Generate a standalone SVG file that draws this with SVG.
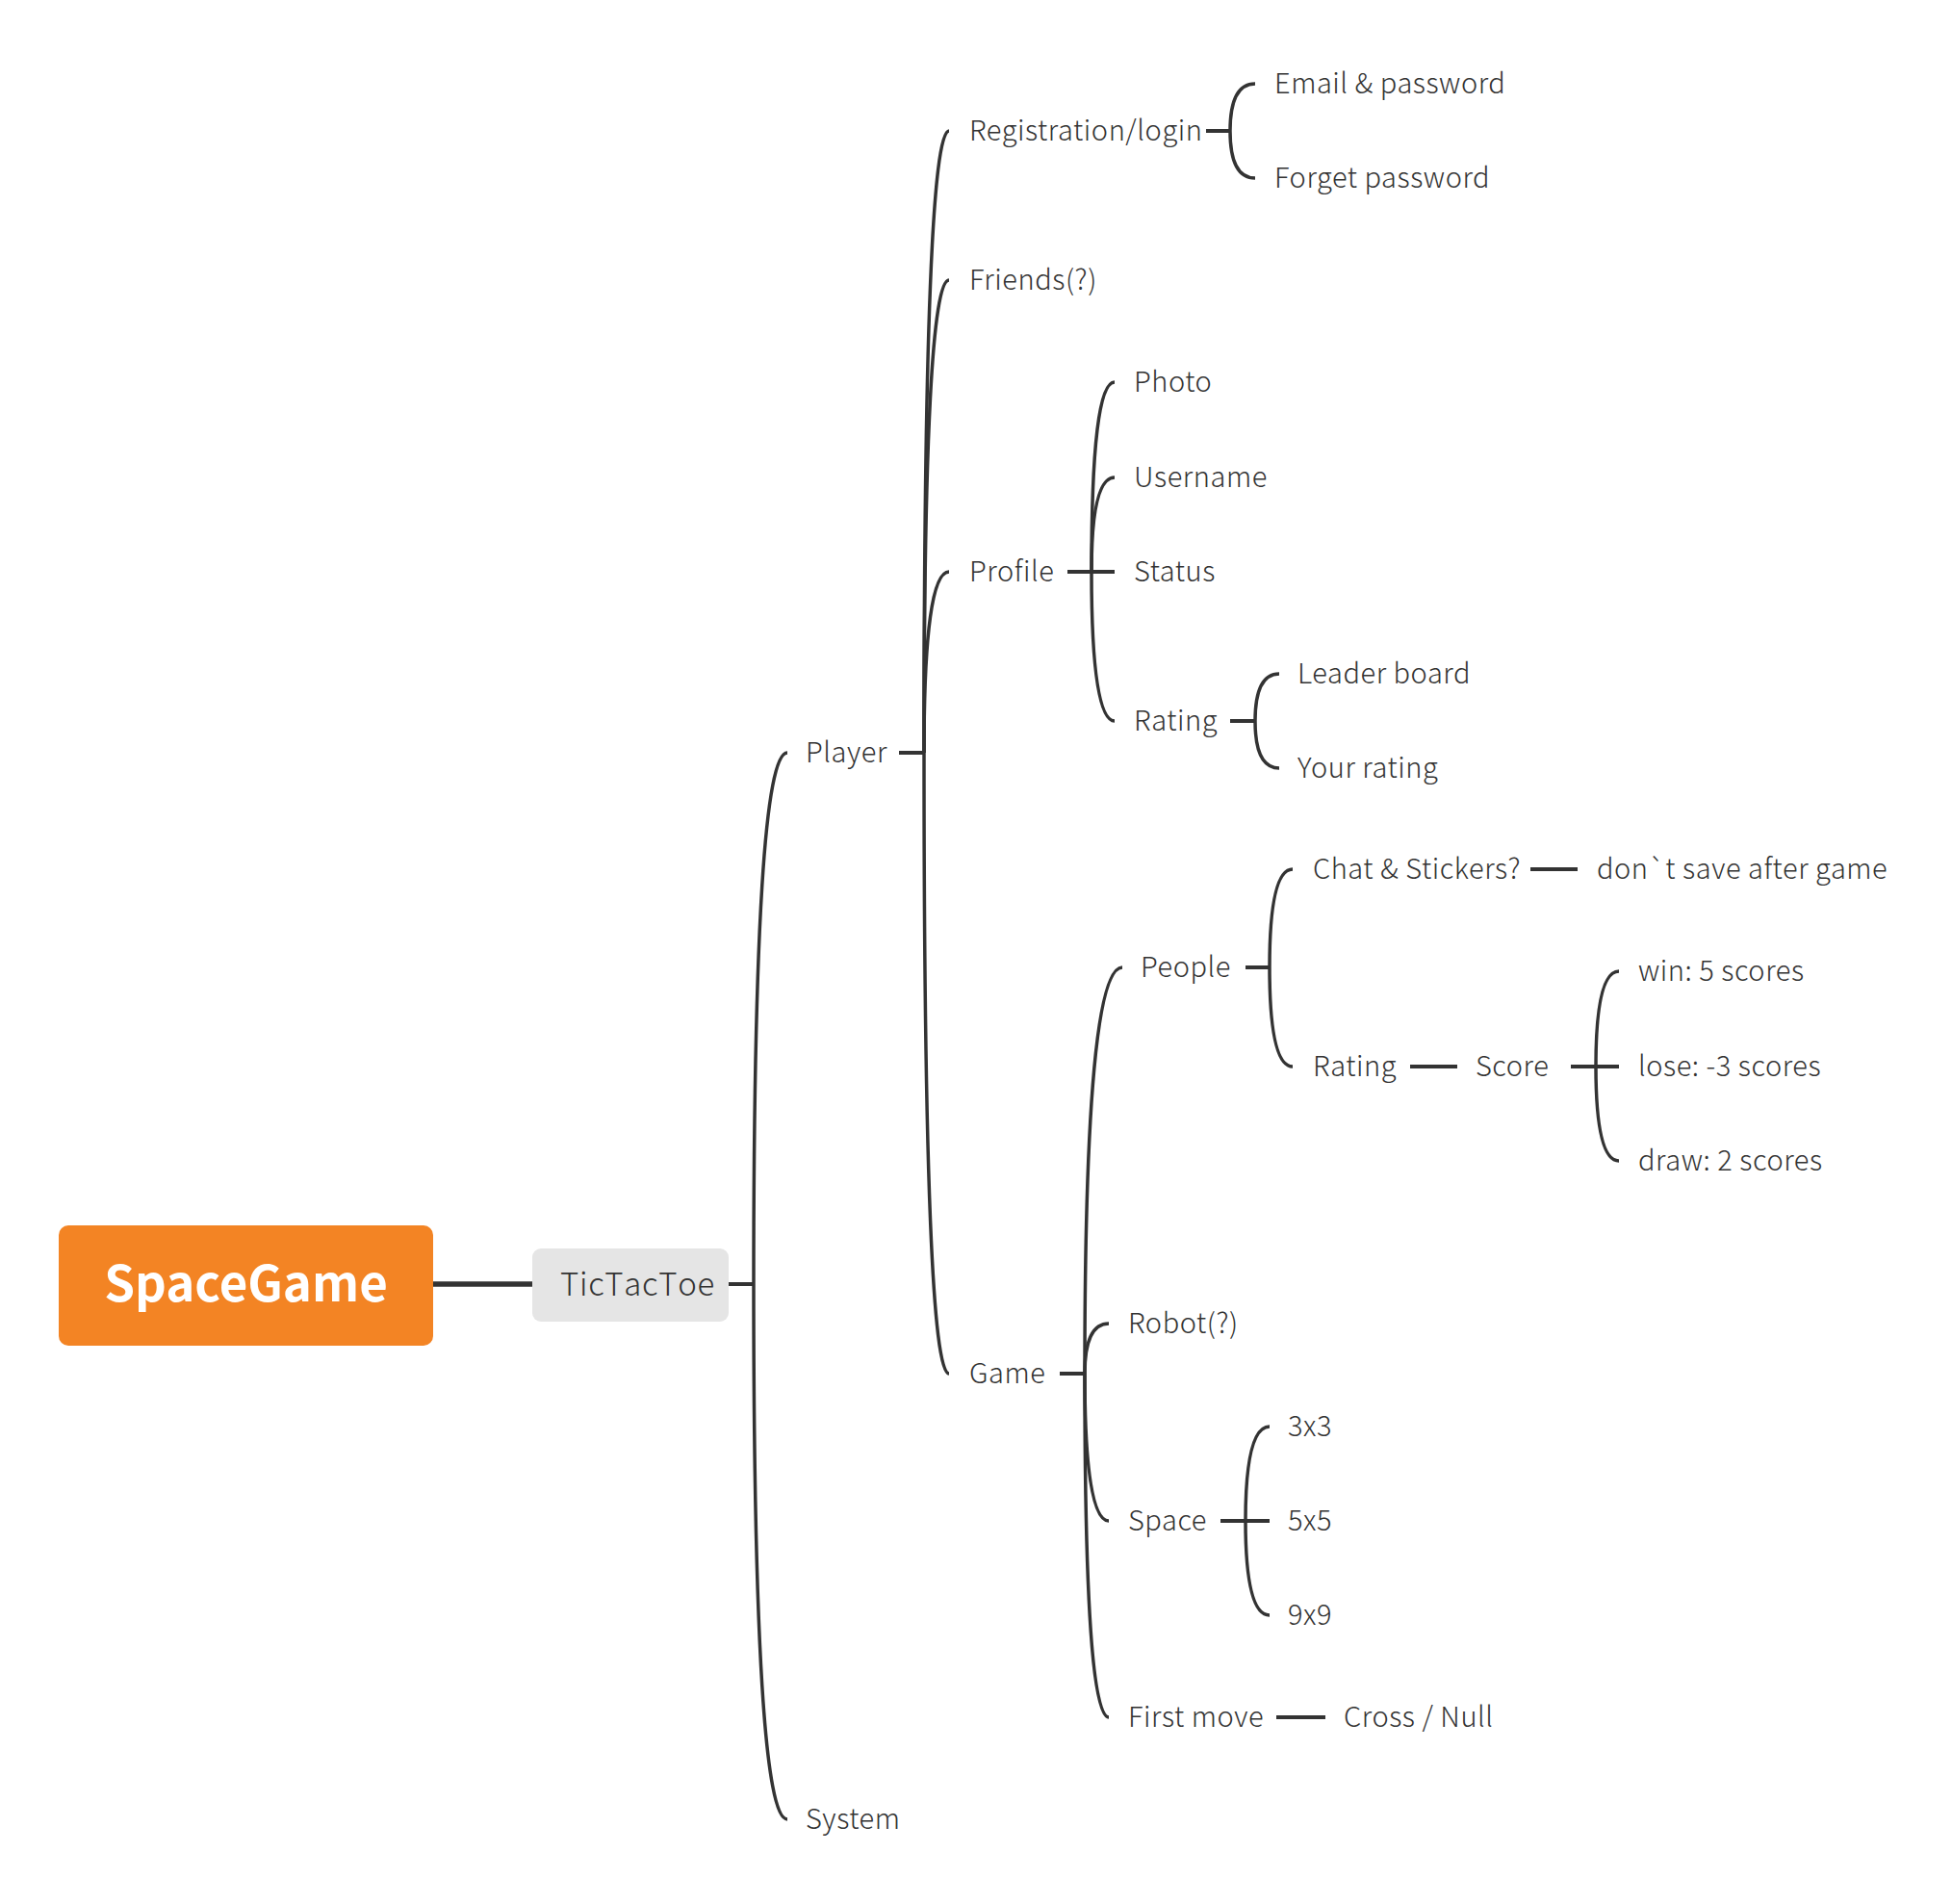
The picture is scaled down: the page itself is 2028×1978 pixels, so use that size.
<svg xmlns="http://www.w3.org/2000/svg" width="2028" height="1978" viewBox="0 0 2028 1978">
<style>
.t{font-family:"Noto Sans CJK SC","Noto Sans",sans-serif;font-size:29px;font-weight:300;letter-spacing:0.55px;fill:#333333}
.c{fill:none;stroke:#333333;stroke-width:3.5;stroke-linecap:butt}
.s{fill:none;stroke:#333333;stroke-width:4}
</style>
<rect width="2028" height="1978" fill="#ffffff"/>
<g id="connectors">
<line class="s" x1="450" y1="1334" x2="553" y2="1334" style="stroke-width:5.5"/>
<line class="s" x1="757" y1="1334" x2="783" y2="1334"/>
<path class="c" d="M783 1334 Q783 782 818 782"/>
<path class="c" d="M783 1334 Q783 1890 818 1890"/>
<line class="s" x1="934" y1="782" x2="960" y2="782"/>
<path class="c" d="M960 782 Q960 136 986 136"/>
<path class="c" d="M960 782 Q960 291 986 291"/>
<path class="c" d="M960 782 Q960 594 986 594"/>
<path class="c" d="M960 782 Q960 1427 986 1427"/>
<line class="s" x1="1253" y1="136" x2="1278" y2="136"/>
<path class="c" d="M1278 136 Q1278 87 1304 87"/>
<path class="c" d="M1278 136 Q1278 185 1304 185"/>
<line class="s" x1="1109" y1="594" x2="1158" y2="594"/>
<path class="c" d="M1134 594 Q1134 397 1158 397"/>
<path class="c" d="M1134 594 Q1134 496 1158 496"/>
<path class="c" d="M1134 594 Q1134 749 1158 749"/>
<line class="s" x1="1278" y1="749" x2="1304" y2="749"/>
<path class="c" d="M1304 749 Q1304 700 1329 700"/>
<path class="c" d="M1304 749 Q1304 798 1329 798"/>
<line class="s" x1="1101" y1="1427" x2="1127" y2="1427"/>
<path class="c" d="M1127 1427 Q1127 1005 1166 1005"/>
<path class="c" d="M1127 1427 Q1127 1375 1152 1375"/>
<path class="c" d="M1127 1427 Q1127 1580 1152 1580"/>
<path class="c" d="M1127 1427 Q1127 1784 1152 1784"/>
<line class="s" x1="1294" y1="1005" x2="1319" y2="1005"/>
<path class="c" d="M1319 1005 Q1319 903 1343 903"/>
<path class="c" d="M1319 1005 Q1319 1108 1343 1108"/>
<line class="s" x1="1590" y1="903" x2="1639" y2="903"/>
<line class="s" x1="1465" y1="1108" x2="1514" y2="1108"/>
<line class="s" x1="1632" y1="1108" x2="1682" y2="1108"/>
<path class="c" d="M1658 1108 Q1658 1009 1682 1009"/>
<path class="c" d="M1658 1108 Q1658 1206 1682 1206"/>
<line class="s" x1="1268" y1="1580" x2="1319" y2="1580"/>
<path class="c" d="M1294 1580 Q1294 1482 1319 1482"/>
<path class="c" d="M1294 1580 Q1294 1678 1319 1678"/>
<line class="s" x1="1326" y1="1784" x2="1377" y2="1784"/>
</g>
<g id="root">
<rect x="61" y="1273" width="389" height="125" rx="10" fill="#F38424"/>
<text x="255.5" y="1352" text-anchor="middle" style="font-family:'Noto Sans CJK SC','Noto Sans',sans-serif;font-size:51px;font-weight:bold;fill:#ffffff">SpaceGame</text>
</g>
<g id="tictactoe">
<rect x="553" y="1297" width="204" height="76" rx="9" fill="#E5E5E5"/>
<text x="582" y="1346" class="t" style="font-size:33px;font-kerning:none;letter-spacing:0.7px">TicTacToe</text>
</g>
<g id="player"><text class="t" x="837" y="792">Player</text></g>
<g id="system"><text class="t" x="837" y="1900">System</text></g>
<g id="registration"><text class="t" x="1007" y="146">Registration/login</text></g>
<g id="email"><text class="t" x="1324" y="97">Email &amp; password</text></g>
<g id="forget"><text class="t" x="1324" y="195">Forget password</text></g>
<g id="friends"><text class="t" x="1007" y="301">Friends(?)</text></g>
<g id="profile"><text class="t" x="1007" y="604">Profile</text></g>
<g id="photo"><text class="t" x="1178" y="407">Photo</text></g>
<g id="username"><text class="t" x="1178" y="506">Username</text></g>
<g id="status"><text class="t" x="1178" y="604">Status</text></g>
<g id="rating-profile"><text class="t" x="1178" y="759">Rating</text></g>
<g id="leader"><text class="t" x="1348" y="710">Leader board</text></g>
<g id="your-rating"><text class="t" x="1348" y="808">Your rating</text></g>
<g id="game"><text class="t" x="1007" y="1437">Game</text></g>
<g id="people"><text class="t" x="1185" y="1015">People</text></g>
<g id="chat"><text class="t" x="1364" y="913">Chat &amp; Stickers?</text></g>
<g id="dont-save"><text class="t" x="1659" y="913">don`t save after game</text></g>
<g id="rating-people"><text class="t" x="1364" y="1118">Rating</text></g>
<g id="score"><text class="t" x="1533" y="1118">Score</text></g>
<g id="win"><text class="t" x="1702" y="1019">win: 5 scores</text></g>
<g id="lose"><text class="t" x="1702" y="1118">lose: -3 scores</text></g>
<g id="draw"><text class="t" x="1702" y="1216">draw: 2 scores</text></g>
<g id="robot"><text class="t" x="1172" y="1385">Robot(?)</text></g>
<g id="space"><text class="t" x="1172" y="1590">Space</text></g>
<g id="s3x3"><text class="t" x="1338" y="1492">3x3</text></g>
<g id="s5x5"><text class="t" x="1338" y="1590">5x5</text></g>
<g id="s9x9"><text class="t" x="1338" y="1688">9x9</text></g>
<g id="first-move"><text class="t" x="1172" y="1794">First move</text></g>
<g id="cross"><text class="t" x="1396" y="1794">Cross / Null</text></g>
</svg>
